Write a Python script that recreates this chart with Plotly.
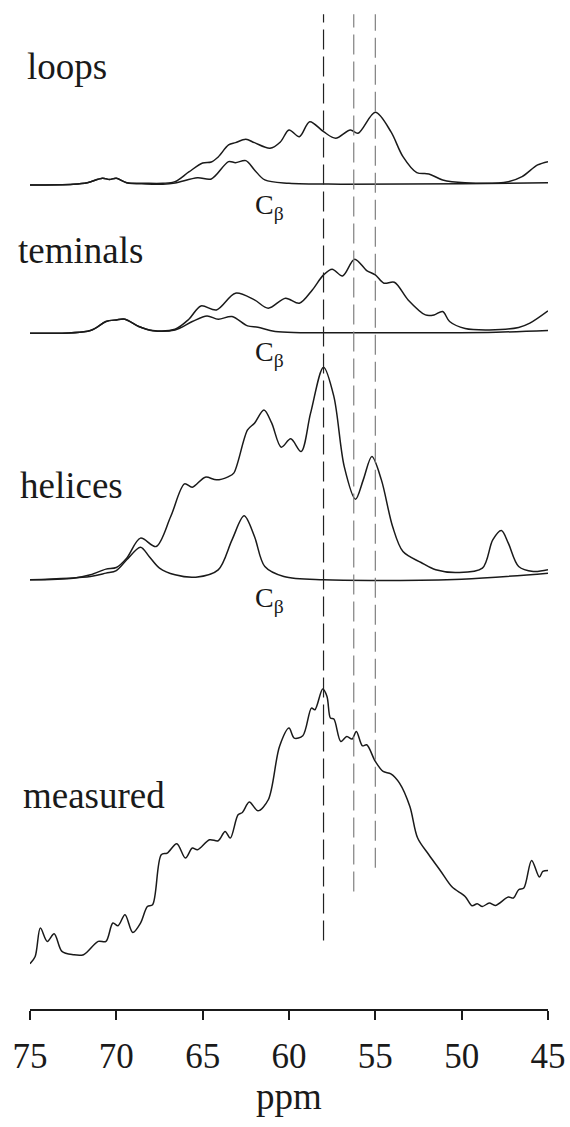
import plotly.graph_objects as go

# ---------------- data (ppm, intensity above each trace's own baseline) ----------------
loops_ppm = [75.0, 72.5, 71.68, 70.8, 70.4, 70.0, 69.4, 68.3, 67.3, 66.6, 65.8, 65.0, 64.5, 64.1,
             63.5, 63.1, 62.5, 62.0, 61.1, 60.5, 60.0, 59.4, 58.8, 58.0, 57.3, 56.45, 56.0, 55.0,
             54.1, 53.4, 52.6, 51.9, 51.1, 49.8, 47.3, 46.5, 45.6, 45.0]
loops_int = [0, 0.8, 2.3, 6.7, 5.5, 6.7, 2.3, 1.7, 1.7, 3.3, 13, 22, 23, 28,
             40, 42.3, 45.7, 42.3, 36.7, 43, 55, 48.3, 63.3, 53.3, 46.7, 55, 51.7, 72.7,
             53.3, 28.3, 12.3, 11, 5, 2.3, 3.3, 8.3, 20, 23.3]

loops_cb_ppm = [75.0, 72.5, 71.68, 70.8, 70.4, 70.0, 69.4, 68.3, 67.3, 66.6, 65.3, 64.5, 63.5,
                63.1, 62.5, 62.0, 61.4, 60.0, 57.0, 50.0, 45.0]
loops_cb_int = [0, 0.8, 2.3, 6.7, 5.5, 6.7, 2.3, 1.0, 0.8, 2, 7.3, 6, 23.3,
                22.3, 24.3, 15, 5, 1.7, 0.8, 1.2, 2.3]

term_ppm = [75.0, 71.5, 70.6, 70.0, 69.5, 68.7, 67.9, 66.6, 65.8, 65.1, 64.2, 63.1, 62.0, 61.2,
            60.2, 59.4, 58.65, 58.0, 57.5, 56.9, 56.2, 55.5, 55.0, 54.5, 53.9, 53.1, 52.1, 51.6,
            51.1, 50.7, 49.8, 48.4, 46.7, 46.05, 45.0]
term_int = [0, 2.7, 11.7, 13.3, 14, 6.7, 2.7, 4, 14, 27.3, 23.3, 40, 33.3, 25,
            35, 30, 43.3, 58.3, 64, 57.3, 74, 62.7, 58.3, 50, 51, 33.3, 18.3, 18.3,
            21.7, 11.7, 4.7, 3.3, 5.7, 10, 22.3]

term_cb_ppm = [75.0, 71.5, 70.6, 70.0, 69.5, 68.7, 67.9, 66.6, 65.6, 64.75, 64.1, 63.3, 62.4,
               61.8, 60.8, 55.0, 48.0, 45.0]
term_cb_int = [0, 2.7, 11.7, 13.3, 14, 6.7, 2.5, 3.3, 11.7, 17.3, 14, 16.7, 7.3,
               6, 1.7, 0.5, 1, 2.7]

hel_ppm = [75.0, 72.5, 71.5, 70.6, 70.0, 69.4, 68.6, 67.7, 66.85, 66.05, 65.6, 64.85, 64.2, 63.5,
           63.2, 62.4, 62.0, 61.45, 61.0, 60.45, 59.9, 59.3, 58.75, 58.0, 57.4, 56.8, 56.15, 55.7,
           55.2, 54.65, 54.0, 53.4, 52.35, 51.5, 50.25, 48.8, 48.2, 47.7, 47.3, 46.7, 45.85, 45.0]
hel_int = [0, 1.7, 5, 10.7, 12.3, 21.7, 41.7, 33.3, 63.3, 96, 92.7, 102.7, 100, 103.3,
           106.7, 150, 156.7, 170, 156.7, 132.7, 141, 128.3, 166.7, 212.7, 183.3, 113.3, 80.7, 100,
           123.3, 100, 53.3, 28.3, 17.3, 10, 7.3, 11.7, 40, 49.3, 36.7, 13.3, 8.3, 10]

hel_cb_ppm = [75.0, 71.5, 70.6, 70.0, 69.4, 68.6, 68.1, 67.5, 66.6, 65.4, 64.1, 63.3, 62.6, 62.0,
              61.4, 60.3, 58.0, 50.0, 45.0]
hel_cb_int = [0, 3.3, 6.7, 9.3, 20, 32.7, 23.3, 11.7, 5, 2.7, 10, 40, 64, 43.3,
              13.3, 3.3, 0, 0.7, 6.7]

meas_ppm = [75.0, 74.7, 74.4, 74.0, 73.6, 73.15, 72.5, 71.9, 71.05, 70.6, 70.2, 69.9, 69.5, 69.05,
            68.6, 68.2, 67.9, 67.4, 67.05, 66.5, 66.0, 65.6, 65.3, 64.6, 64.1, 63.7, 63.4, 62.95,
            62.7, 62.3, 61.8, 61.2, 60.55, 60.0, 59.7, 59.2, 58.7, 58.5, 58.05, 57.8, 57.6, 57.4,
            57.0, 56.65, 56.35, 56.1, 55.75, 55.5, 55.0, 54.55, 54.1, 53.6, 53.0, 52.55, 51.9,
            51.2, 50.55, 49.8, 49.4, 49.1, 48.8, 48.4, 48.05, 47.3, 47.0, 46.7, 46.4, 45.95,
            45.5, 45.3, 45.0]
meas_int = [1, 8.3, 36.7, 23.3, 31, 13.3, 10, 10, 23.3, 23.3, 41.7, 39, 50, 32.3,
            41.7, 58.3, 60, 110, 111.7, 121, 106.7, 116.7, 115, 125, 124, 133.3, 126.7, 150,
            152.3, 162.7, 154, 165, 218.3, 236.7, 226.7, 229, 256.7, 255, 275.7, 268.3, 246.7, 245.7,
            223.3, 228.3, 225.7, 233.3, 219, 220, 203.3, 193.3, 191, 181.7, 158.3, 126.7, 110,
            93.3, 77.7, 68.3, 59, 61, 58.3, 61.7, 59.3, 67.7, 66.7, 75, 76.7, 104.3,
            87.7, 93.3, 94.3]

labels = ["loops", "teminals", "helices", "measured"]
ref_ppm = [58.0, 56.25, 55.0]
tick_vals = [75, 70, 65, 60, 55, 50, 45]

# ---------------- layout constants ----------------
offsets = {"loops": 824.3, "teminals": 676.0, "helices": 429.3, "measured": 44.3}
FONT = "Liberation Serif, Times New Roman, serif"
INK = "#1a1a1a"
LW = 1.5
PLOT_L, PLOT_W = 30, 518

fig = go.Figure()

def add(ppm, inten, off):
    fig.add_trace(go.Scatter(
        x=ppm, y=[v + off for v in inten], mode="lines",
        line=dict(color=INK, width=LW, shape="spline", smoothing=0.9),
        hoverinfo="skip", showlegend=False))

add(loops_ppm, loops_int, offsets["loops"])
add(loops_cb_ppm, loops_cb_int, offsets["loops"])
add(term_ppm, term_int, offsets["teminals"])
add(term_cb_ppm, term_cb_int, offsets["teminals"])
add(hel_ppm, hel_int, offsets["helices"])
add(hel_cb_ppm, hel_cb_int, offsets["helices"])
add(meas_ppm, meas_int, offsets["measured"])

# dashed reference lines
line_tops = [995, 995, 995]
line_bottoms = [68.6, 117.6, 141.3]
line_cols = ["#222222", "#808080", "#808080"]
for xv, y0, y1, c in zip(ref_ppm, line_bottoms, line_tops, line_cols):
    fig.add_shape(type="line", x0=xv, x1=xv, y0=y0, y1=y1, xref="x", yref="y",
                  line=dict(color=c, width=1.2, dash="20px,7px"))

# series labels (left edge in pixels -> paper coords)
label_pos = {"loops": (25.4, 942.3), "teminals": (16.4, 758.6),
             "helices": (18.2, 523.6), "measured": (21.1, 213.6)}
for name in labels:
    px, yv = label_pos[name]
    fig.add_annotation(x=(px - PLOT_L) / PLOT_W, y=yv, xref="paper", yref="y", text=name,
                       showarrow=False, xanchor="left", yanchor="middle",
                       font=dict(family=FONT, size=37, color=INK))

# C-beta labels
cb_x = 62.07
for yv in [803.0, 656.0, 410.0]:
    fig.add_annotation(x=cb_x, y=yv, xref="x", yref="y", text="C<sub>β</sub>",
                       showarrow=False, xanchor="left", yanchor="middle",
                       font=dict(family=FONT, size=28, color=INK))

fig.update_layout(
    width=570, height=1127,
    margin=dict(l=PLOT_L, r=570 - PLOT_L - PLOT_W, t=0, b=118),
    paper_bgcolor="white", plot_bgcolor="white",
    xaxis=dict(range=[75, 45], tickvals=tick_vals, ticktext=[str(t) for t in tick_vals],
               showgrid=False, zeroline=False, showline=True, linecolor=INK, linewidth=LW,
               ticks="outside", ticklen=9, tickwidth=LW, tickcolor=INK,
               tickfont=dict(family=FONT, size=35, color=INK), ticklabelstandoff=6,
               title=dict(text="ppm", font=dict(family=FONT, size=37, color=INK), standoff=4),
               automargin=False),
    yaxis=dict(range=[0, 1009.3], visible=False, automargin=False),
)

fig.write_html("out.html", config={"displayModeBar": False},
               post_script="document.body.style.margin='0';document.body.style.padding='0';")
